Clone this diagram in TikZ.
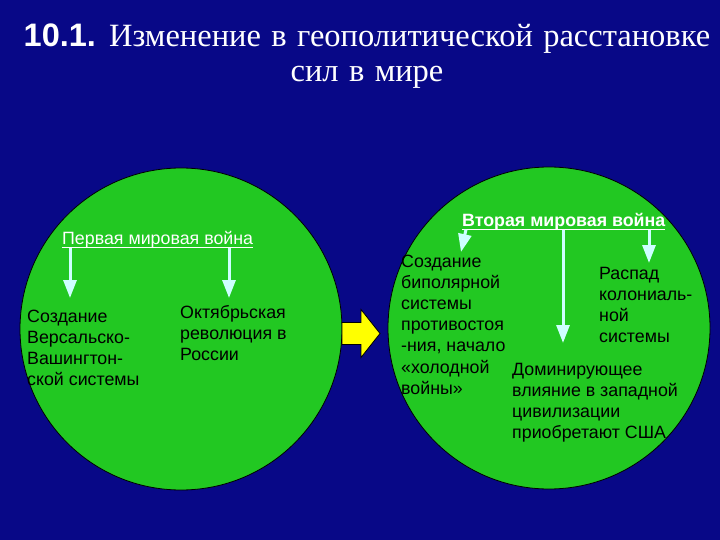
\documentclass[tikz,border=0pt]{standalone}
\usepackage{fontspec}
\setmainfont{Liberation Serif}
\newfontfamily\arialf{Liberation Sans}
\usetikzlibrary{arrows.meta}
\definecolor{bgblue}{RGB}{8,8,135}
\definecolor{cgreen}{RGB}{34,200,34}
\definecolor{pcyan}{RGB}{205,255,255}
\definecolor{ayellow}{RGB}{255,255,0}
\newcommand{\widesp}{\spaceskip=0.32em\relax}
\tikzset{
  txt/.style={anchor=base west, align=left, inner sep=0pt, font=\arialf\fontsize{17.8}{21.2}\selectfont, text=black},
  hdr/.style={anchor=base west, inner sep=0pt, font=\arialf\fontsize{17.8}{20}\selectfont, text=white},
  uline/.style={draw=white, line width=1pt},
  arr/.style={draw=pcyan, fill=pcyan, line width=3pt, -{Triangle[width=13pt,length=18pt]}},
  circ/.style={circle, fill=cgreen, draw=black, line width=0.8pt, minimum size=322pt, inner sep=0pt},
  ttl/.style={align=center, inner sep=0pt, text=white, font=\fontsize{32.5}{34.7}\selectfont},
}
\begin{document}
\begin{tikzpicture}[x=1pt,y=-1pt]
\fill[bgblue] (0,0) rectangle (720,540);
\useasboundingbox (0,0) rectangle (720,540);

% title (base anchor = last line's baseline)
\node[ttl, anchor=base] (title) at (367,81.7) {\widesp{\arialf\bfseries 10.1.} Изменение в геополитической расстановке\\\widesp сил в мире};

% circles
\node[circ] (L) at (181,329) {};
\node[circ] (R) at (549,328) {};

% transition arrow
\draw[fill=ayellow, draw=black, line width=0.8pt, line join=miter]
  (342,322.5) -- (361,322.5) -- (361,309.5) -- (380,333.5) -- (361,357.5) -- (361,344.5) -- (342,344.5) -- cycle;

% left circle
\node[hdr] (h1) at (62,244) {Первая мировая война};
\draw[uline] ([yshift=-3.5pt]h1.base west) -- ([yshift=-3.5pt]h1.base east);
\coordinate (t1) at (70,298);
\coordinate (t2) at (229,298);
\draw[arr] (t1 |- h1.south) -- (t1);
\draw[arr] (t2 |- h1.south) -- (t2);
\node[txt] (l1) at (27,385.6) {Создание\\Версальско-\\Вашингтон-\\ской системы};
\node[txt] (l2) at (180,360.4) {Октябрьская\\революция в\\России};

% right circle
\node[hdr, font=\arialf\bfseries\fontsize{17.8}{20}\selectfont] (h2) at (462,226) {Вторая мировая война};
\draw[uline] ([yshift=-3.5pt]h2.base west) -- ([yshift=-3.5pt]h2.base east);
\coordinate (s1) at (466,229.5);
\coordinate (u1) at (461,252);
\coordinate (u2) at (563,343);
\coordinate (u3) at (649,263);
\draw[arr] (s1) -- (u1);
\draw[arr] (u2 |- h2.south) -- (u2);
\draw[arr] (u3 |- h2.south) -- (u3);
\node[txt] (r1) at (401,394.2) {Создание\\биполярной\\системы\\противостоя\\-ния, начало\\«холодной\\войны»};
\node[txt] (r2) at (512,438.6) {Доминирующее\\влияние в западной\\цивилизации\\приобретают США};
\node[txt] (r3) at (599,342.6) {Распад\\колониаль-\\ной\\системы};
\end{tikzpicture}
\end{document}
